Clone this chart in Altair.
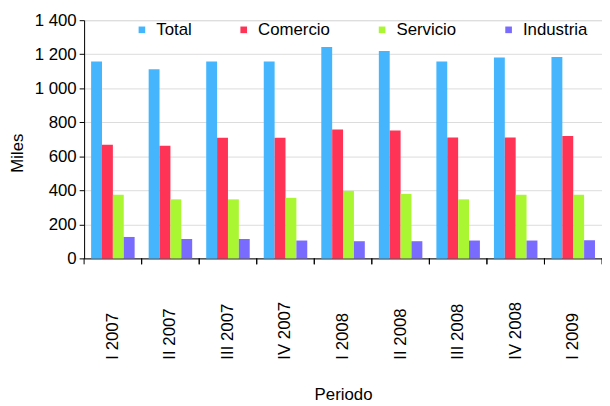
import altair as alt
import pandas as pd

periodos = ["I 2007", "II 2007", "III 2007", "IV 2007", "I 2008", "II 2008", "III 2008", "IV 2008", "I 2009"]
series = ["Total", "Comercio", "Servicio", "Industria"]
colores = ["#45B6FE", "#FF3355", "#ABF633", "#7A6BFF"]
total = [1157, 1111, 1157, 1157, 1243, 1219, 1157, 1181, 1184]
comercio = [668, 662, 709, 709, 757, 751, 711, 711, 719]
servicio = [374, 347, 347, 356, 397, 379, 347, 374, 374]
industria = [126, 114, 114, 105, 101, 101, 105, 105, 106]
y_ticks = [0, 200, 400, 600, 800, 1000, 1200, 1400]

rows = []
for i, p in enumerate(periodos):
    for s, vals in zip(series, [total, comercio, servicio, industria]):
        rows.append({"Periodo": p, "Serie": s, "Miles": vals[i]})
df = pd.DataFrame(rows)
df_p = pd.DataFrame({"Periodo": periodos})

FONT = "Liberation Sans"
FS = 17

x_enc = alt.X("Periodo:N", sort=periodos, scale=alt.Scale(paddingInner=0, paddingOuter=0),
              axis=alt.Axis(title="Periodo", labelAngle=270, labelAlign="left", labelBaseline="middle",
                            labelPadding=102, ticks=False, tickSize=0, labelFontSize=FS,
                            labelFont=FONT, labelColor="black", domainColor="black", domainWidth=1,
                            grid=False, titleFont=FONT, titleFontSize=FS, titleFontWeight="normal",
                            titleColor="black", titleY=143, titleBaseline="alphabetic"))

bars = alt.Chart(df).mark_bar(strokeWidth=0).encode(
    x=x_enc,
    xOffset=alt.XOffset("Serie:N", sort=series, scale=alt.Scale(paddingInner=0, paddingOuter=0.645)),
    y=alt.Y("Miles:Q", scale=alt.Scale(domain=[0, 1400], nice=False),
            axis=alt.Axis(title="Miles", values=y_ticks, tickSize=5, labelPadding=3,
                          labelFontSize=FS, labelFont=FONT, labelColor="black",
                          labelExpr="replace(format(datum.value, ',d'), ',', ' ')",
                          tickColor="black", domainColor="black", domainWidth=1,
                          gridColor="#dcdcdc", titleFont=FONT, titleFontSize=FS,
                          titleFontWeight="normal", titleColor="black",
                          titleX=-67, titleY=134, titleAngle=270, titleAlign="center",
                          titleBaseline="middle")),
    color=alt.Color("Serie:N", sort=series, scale=alt.Scale(domain=series, range=colores),
                    legend=alt.Legend(title=None, orient="none", legendX=50, legendY=1,
                                      direction="horizontal", columns=4, columnPadding=44,
                                      symbolType="square", symbolSize=45, symbolStrokeWidth=0,
                                      labelFontSize=FS, labelFont=FONT, labelColor="black",
                                      labelOffset=6, padding=0)),
)

ticks_left = alt.Chart(df_p).mark_rule(color="black", strokeWidth=1).encode(
    x=alt.X("Periodo:N", sort=periodos, bandPosition=0),
    y=alt.value(241), y2=alt.value(247),
)
ticks_right = alt.Chart(df_p).mark_rule(color="black", strokeWidth=1).encode(
    x=alt.X("Periodo:N", sort=periodos, bandPosition=1),
    y=alt.value(241), y2=alt.value(247),
)

chart = alt.layer(bars, ticks_left, ticks_right).properties(
    width=524, height=241, autosize="none",
    padding={"left": 77, "top": 10, "right": 0, "bottom": 147},
).configure_view(stroke=None).configure(background="white")

chart.save("out.html", embed_options={"renderer": "svg", "actions": False})
